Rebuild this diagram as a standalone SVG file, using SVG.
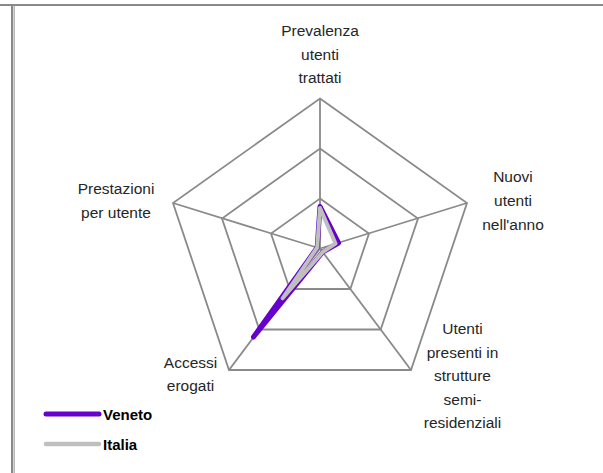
<svg xmlns="http://www.w3.org/2000/svg" width="603" height="473" viewBox="0 0 603 473">
<style>
.grid{fill:none;stroke:#8a8a8a;stroke-width:1.8;stroke-linejoin:miter}
.lbl{font-family:"Liberation Sans",Arial,sans-serif;font-size:15.5px;fill:#262626;text-anchor:middle}
.leg{font-family:"Liberation Sans",Arial,sans-serif;font-size:15px;font-weight:bold;fill:#000}
.ven{fill:none;stroke:#6600CC;stroke-width:5;stroke-linejoin:round;stroke-linecap:round}
.ita{fill:none;stroke:#BFBFBF;stroke-width:4;stroke-linejoin:round;stroke-linecap:round}
</style>
<rect width="603" height="473" fill="#fff"/>
<g id="frame">
<line x1="0" y1="5" x2="603" y2="5" stroke="#8a8a8a" stroke-width="2"/>
<line x1="12" y1="5" x2="12" y2="473" stroke="#8a8a8a" stroke-width="2"/>
<line x1="14.2" y1="6" x2="14.2" y2="473" stroke="#b5b5b5" stroke-width="1.5"/>
</g>
<g id="grid">
<polygon class="grid" points="320,98.5 467,203 411,370 229,370 173,203"/>
<polygon class="grid" points="320,148.5 418,218.5 380.7,329.5 259.3,329.5 222,218.5"/>
<polygon class="grid" points="320,198.5 369,233.5 350.3,289 289.7,289 271,233.5"/>
<line class="grid" x1="320" y1="248.5" x2="320" y2="98.5"/>
<line class="grid" x1="320" y1="248.5" x2="467" y2="203"/>
<line class="grid" x1="320" y1="248.5" x2="411" y2="370"/>
<line class="grid" x1="320" y1="248.5" x2="229" y2="370"/>
<line class="grid" x1="320" y1="248.5" x2="173" y2="203"/>
</g>
<g id="connectors">
<polygon id="veneto" class="ven" points="320,206.5 338.5,243 322.7,252 253.5,337 317.2,247.5"/>
<polygon id="italia" class="ita" points="320,208 335.5,243.5 322.7,252 282.6,298.3 317.2,247.5"/>
</g>
<g id="label-prevalenza">
<text class="lbl" x="320" y="36">Prevalenza</text>
<text class="lbl" x="320" y="59.5">utenti</text>
<text class="lbl" x="320" y="83">trattati</text>
</g>
<g id="label-nuovi">
<text class="lbl" x="513" y="182">Nuovi</text>
<text class="lbl" x="513" y="206">utenti</text>
<text class="lbl" x="513" y="230">nell'anno</text>
</g>
<g id="label-utenti-presenti">
<text class="lbl" x="462.5" y="334">Utenti</text>
<text class="lbl" x="462.5" y="357.5">presenti in</text>
<text class="lbl" x="462.5" y="381">strutture</text>
<text class="lbl" x="462.5" y="404.5">semi-</text>
<text class="lbl" x="462.5" y="428">residenziali</text>
</g>
<g id="label-accessi">
<text class="lbl" x="190.5" y="368">Accessi</text>
<text class="lbl" x="190.5" y="391">erogati</text>
</g>
<g id="label-prestazioni">
<text class="lbl" x="116" y="194">Prestazioni</text>
<text class="lbl" x="116" y="218">per utente</text>
</g>
<g id="legend">
<line x1="46" y1="414" x2="99" y2="414" stroke="#6600CC" stroke-width="5" stroke-linecap="round"/>
<text class="leg" x="103" y="419.5">Veneto</text>
<line x1="46" y1="444" x2="99" y2="444" stroke="#BFBFBF" stroke-width="4.5" stroke-linecap="round"/>
<text class="leg" x="103" y="450">Italia</text>
</g>
</svg>
